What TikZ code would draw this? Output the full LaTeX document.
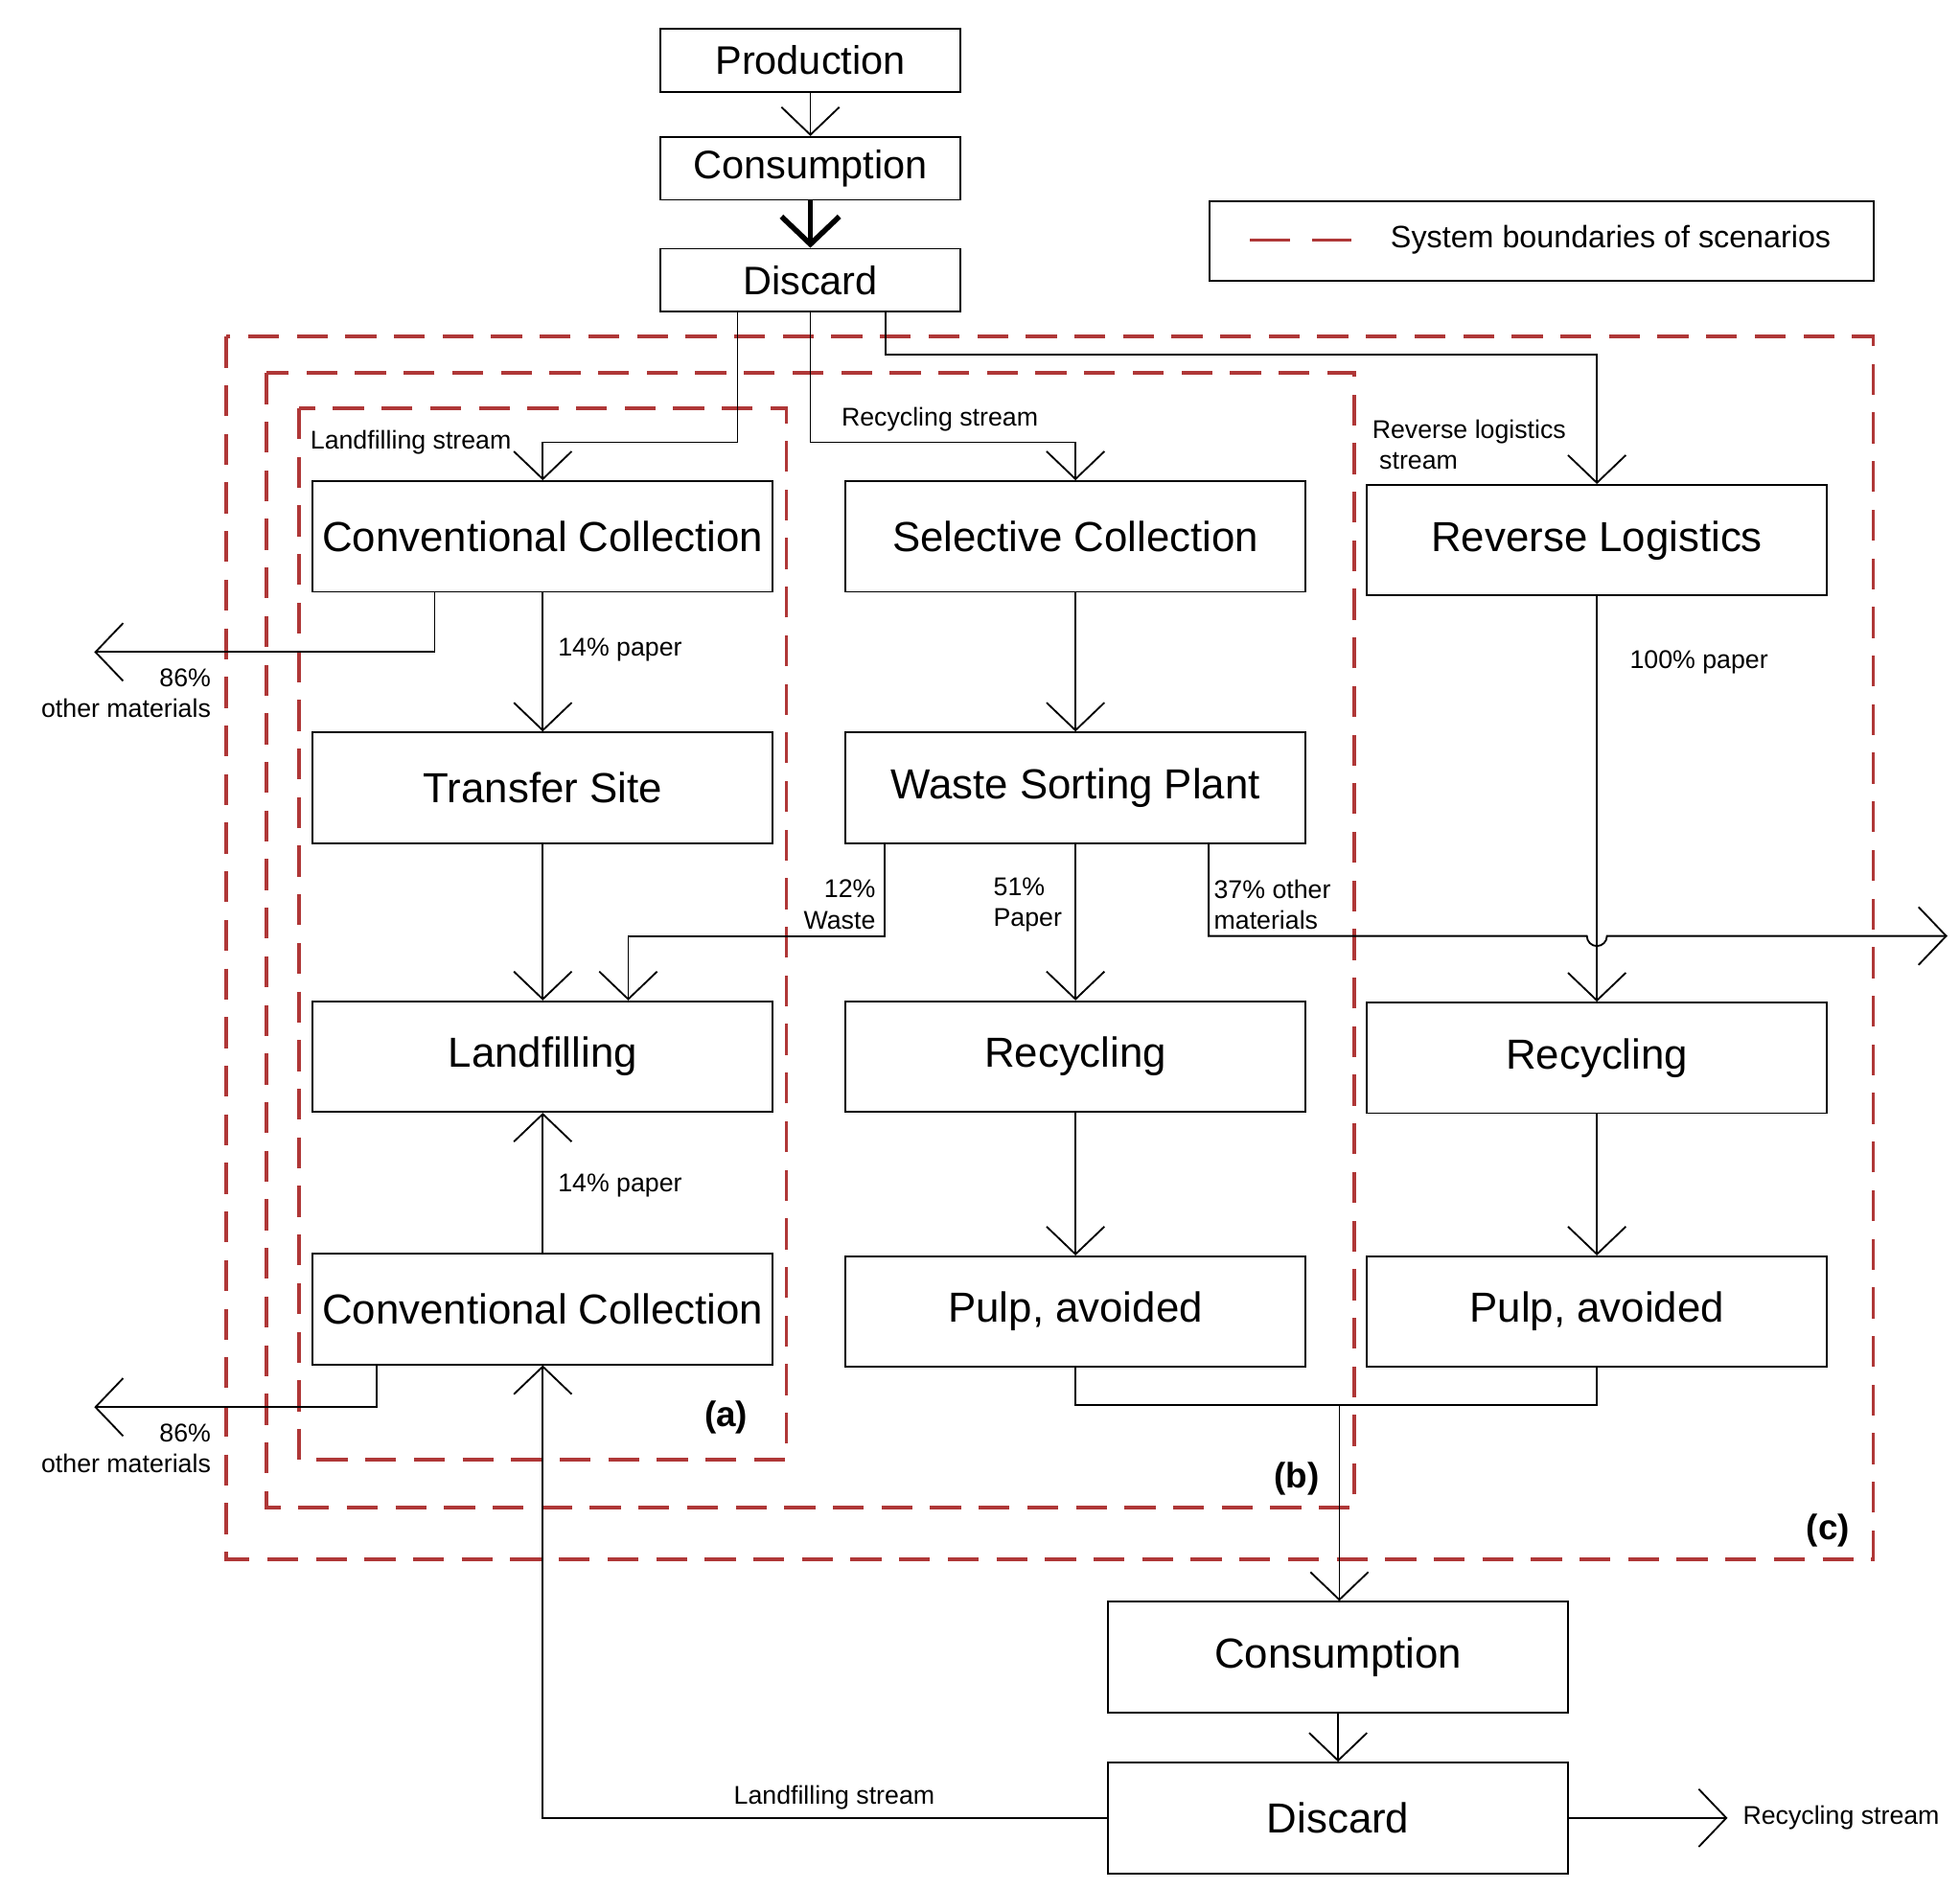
\documentclass[tikz,border=0pt]{standalone}
\usepackage{fontspec}
\setmainfont{Liberation Sans}
\usepackage{xcolor}
\usetikzlibrary{arrows.meta}
\definecolor{bound}{RGB}{175,55,55}
\tikzset{
  box/.style={draw, minimum width=3.66cm, minimum height=0.88cm, inner sep=0pt, font=\fontsize{9.5}{11}\selectfont},
  topbox/.style={draw, minimum width=2.39cm, minimum height=0.5cm, inner sep=0pt, font=\fontsize{9}{11}\selectfont},
  flow/.style={-{Straight Barb[length=2.2mm,width=4.6mm]}},
  lab/.style={font=\fontsize{5.8}{7}\selectfont, inner sep=1pt},
  tag/.style={font=\bfseries\fontsize{8}{10}\selectfont},
  scen/.style={bound, dashed, dash pattern=on 7pt off 4pt, line width=0.8pt}
}
\begin{document}
\begin{tikzpicture}[x=0.01cm,y=-0.01cm]
  \useasboundingbox (0,0) rectangle (1560,1503);
  % system boundaries
  \draw [scen] (180,268) rectangle (1491,1241);
  \draw [scen] (212,297) rectangle (1078,1200);
  \draw [scen] (238,325) rectangle (626,1162);
  \node [tag] (taga) at (578,1128) {(a)};
  \node [tag] (tagb) at (1032,1177) {(b)};
  \node [tag] (tagc) at (1455,1218) {(c)};
  % legend
  \node [draw, minimum width=5.28cm, minimum height=0.63cm] (legend) at (1227,192) {};
  \draw [scen, dash pattern=on 9pt off 5pt] (995,191) -- (1078,191);
  \node [font=\fontsize{7}{9}\selectfont] (legtxt) at (1282,191) {System boundaries of scenarios};
  % top chain
  \node [topbox] (prod) at (645,48) {Production};
  \node [topbox] (cons) at (645,134) {Consumption};
  \node [topbox] (disc) at (645,223) {Discard};
  % boxes
  \node [box] (conv1) at (432,427) {Conventional Collection};
  \node [box] (sel) at (856,427) {Selective Collection};
  \node [box] (rev) at (1271,430) {Reverse Logistics};
  \node [box] (trans) at (432,627) {Transfer Site};
  \node [box] (sort) at (856,627) {Waste Sorting Plant};
  \node [box] (land) at (432,841) {Landfilling};
  \node [box] (rec1) at (856,841) {Recycling};
  \node [box] (rec2) at (1271,842) {Recycling};
  \node [box] (conv2) at (432,1042) {Conventional Collection};
  \node [box] (pulp1) at (856,1044) {Pulp, avoided};
  \node [box] (pulp2) at (1271,1044) {Pulp, avoided};
  \node [box] (cons2) at (1065,1319) {Consumption};
  \node [box] (disc2) at (1065,1447) {Discard};
  \coordinate (out1) at (75,519);
  \coordinate (out2) at (75,1120);
  \coordinate (out3) at (1550,745);
  \coordinate (out4) at (1375,1447);
  % connectors
  \draw [flow] (prod) -- (cons);
  \draw [flow, line width=1.2pt] (cons) -- (disc);
  \draw [flow] (disc.south -| 587,0) |- (432,352) -- (conv1.north);
  \draw [flow] (disc.south) |- (856,352) -- (sel.north);
  \draw [flow] (disc.south -| 705,0) |- (1271,282) -- (rev.north);
  \node [lab, anchor=center] (l1) at (327,352) {Landfilling stream};
  \node [lab] (l2) at (748,334) {Recycling stream};
  \node [lab, anchor=north west, align=left] (l3) at (1088,330) {Reverse logistics\\\ stream};
  \draw [flow] (conv1.south -| 346,0) |- (out1);
  \node [lab, anchor=north east, align=right] (l4) at (172,528) {86\%\\other materials};
  \draw [flow] (conv1) -- (trans);
  \node [lab, anchor=west] (l5) at (440,517) {14\% paper};
  \draw [flow] (sel) -- (sort);
  \draw [flow] (rev) -- (rec2);
  \node [lab, anchor=west] (l6) at (1293,527) {100\% paper};
  \draw [flow] (trans) -- (land);
  \draw [flow] (sort.south -| 704,0) |- (500,745) -- (land.north -| 500,0);
  \node [lab, anchor=east, align=right] (l7) at (701,720) {12\%\\Waste};
  \draw [flow] (sort) -- (rec1);
  \node [lab, anchor=center, align=left] (l8) at (818,720) {51\%\\Paper};
  \draw [flow] (sort.south -| 962,0) -- (962,745) -- (1263,745) arc (180:0:8) -- (out3);
  \node [lab, anchor=west, align=left] (l9) at (962,720) {37\% other\\materials};
  \draw [flow] (rec1) -- (pulp1);
  \draw [flow] (rec2) -- (pulp2);
  \draw [flow] (conv2) -- (land);
  \node [lab, anchor=west] (l10) at (440,944) {14\% paper};
  \draw [flow] (conv2.south -| 300,0) |- (out2);
  \node [lab, anchor=north east, align=right] (l11) at (172,1129) {86\%\\other materials};
  \draw (pulp1.south) |- (1271,1118) -- (pulp2.south);
  \draw [flow] (1066,1118) -- (cons2.north -| 1066,0);
  \draw [flow] (cons2) -- (disc2);
  \draw [flow] (disc2.west) -| (conv2.south);
  \node [lab] (l12) at (664,1431) {Landfilling stream};
  \draw [flow] (disc2.east) -- (out4);
  \node [lab, anchor=west] (l13) at (1383,1447) {Recycling stream};
\end{tikzpicture}
\end{document}
